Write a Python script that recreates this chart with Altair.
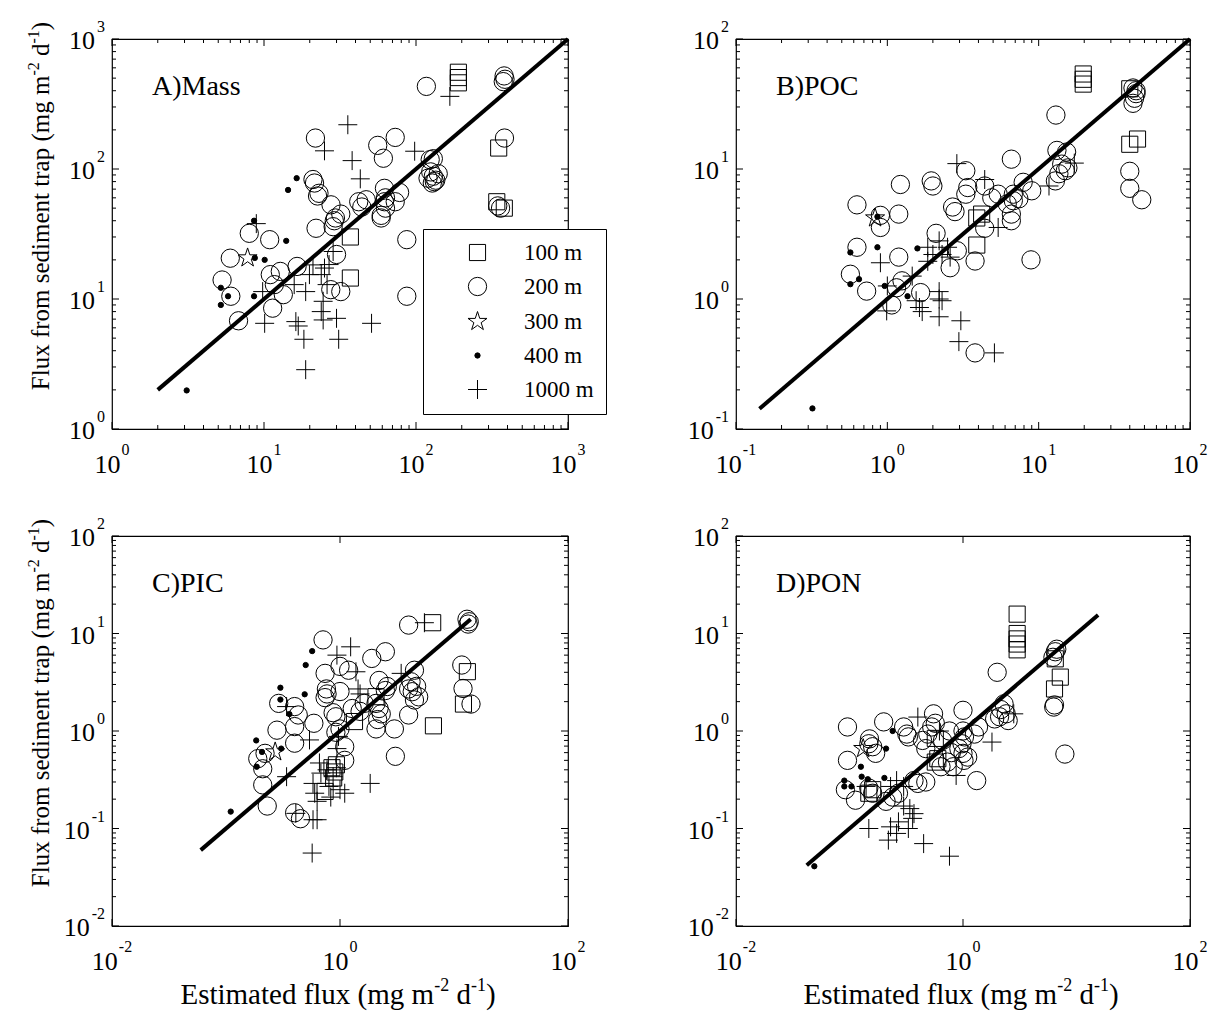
import altair as alt
import pandas as pd

FONT = "Liberation Serif"
DEPTHS = ["100 m", "200 m", "300 m", "400 m", "1000 m"]

# ---------------- Panel A: Mass ----------------
A_100_X = [190, 190, 190, 350, 340, 381, 37, 37]
A_100_Y = [555, 505, 460, 145, 56, 50, 30, 14.5]
A_200_X = [117, 380, 385, 375, 382, 360, 345, 21.8, 56, 73, 61, 124, 130, 125, 130, 135, 128, 140, 120, 132,
           21, 21.5, 22.5, 23, 22, 27.6, 29, 28.5, 29.5, 32, 30, 27.5, 32, 42, 47, 44, 62, 63, 62, 63, 59, 59,
           78, 73, 87, 87, 6.8, 5.3, 6.0, 6.05, 8, 10.9, 11, 11.7, 11.4, 13.4, 12.8, 16.5]
A_200_Y = [432, 520, 490, 470, 173, 50, 52, 173, 152, 175, 121, 118, 120, 95, 88, 82, 78, 92, 85, 80,
           83, 78, 62, 65, 35, 53, 40, 36, 42, 45, 22, 11.8, 11.4, 56, 58, 51, 71, 60, 56, 50, 44, 42,
           66, 56, 28.6, 10.5, 6.8, 14, 20.6, 10.5, 32, 28.6, 15.4, 12.9, 8.5, 10.8, 16.3, 17.8]
A_300_X = [7.8]
A_300_Y = [20.7]
A_400_X = [3.1, 5.2, 5.2, 5.8, 8.6, 8.7, 10.1, 8.6, 14, 14.4, 16.4]
A_400_Y = [1.98, 12.2, 9.0, 10.5, 40, 20.7, 20, 10.5, 28, 69, 85]
A_1000_X = [167, 35.6, 25, 38, 43, 98, 8.9, 9.8, 10.1, 15.8, 16.2, 16.8, 18.3, 18.8, 21, 19.9, 18.8, 23.8,
            25, 26, 24.5, 23.8, 24.5, 28.5, 26.8, 30, 31, 51]
A_1000_Y = [362, 219, 138, 116, 84, 137, 38, 11.4, 6.5, 12.9, 6.7, 6.2, 4.9, 2.86, 18.3, 15.4, 11.4, 15.4,
            17.3, 12.9, 9.6, 8.0, 6.9, 23.2, 18.4, 7.1, 4.9, 6.5]
A_LINE_X = [2, 1000]
A_LINE_Y = [2, 1000]

# ---------------- Panel B: POC ----------------
B_100_X = [19.7, 19.7, 19.7, 40, 45, 40, 3.9, 4.2, 3.9]
B_100_Y = [53.8, 49, 45, 41.4, 17, 15.5, 4.2, 4.5, 2.6]
B_200_X = [13, 42, 44, 43, 42, 44, 40, 40, 48, 6.6, 13.2, 15.3, 14.2, 15, 13.6, 12.9, 15.6, 7.9, 9, 6.8,
           6.2, 6.8, 6.6, 6.6, 7.4, 8.9, 4.4, 4.9, 5.4, 3.3, 3.4, 3.3, 2.7, 2.8, 4.4, 3.8, 2.1, 2.9, 2.6,
           1.95, 2.0, 1.22, 1.19, 1.19, 1.25, 1.15, 1.07, 1.66, 0.63, 0.9, 0.9, 0.63, 0.57, 0.73, 3.8]
B_200_Y = [26, 42, 38, 35, 32, 40, 9.6, 7.1, 5.8, 11.9, 13.9, 13.5, 10.9, 9.7, 9.2, 8.1, 10.2, 7.9, 6.8, 6.4,
           5.4, 5.7, 4.5, 4.0, 5.9, 2.0, 7.4, 6.0, 6.4, 9.7, 7.2, 6.4, 5.1, 4.7, 3.5, 1.96, 3.2, 2.35, 1.74,
           8.1, 7.4, 7.6, 4.5, 2.1, 1.38, 1.22, 0.9, 1.12, 5.3, 4.4, 3.55, 2.5, 1.55, 1.15, 0.385]
B_300_X = [0.83]
B_300_Y = [4.2]
B_400_X = [0.32, 0.57, 0.57, 0.65, 0.86, 0.86, 0.96, 1.36, 1.58]
B_400_Y = [0.144, 2.28, 1.3, 1.42, 4.3, 2.5, 1.26, 1.05, 2.45]
B_1000_X = [2.88, 4.4, 5.4, 17.2, 11.7, 1.85, 2.0, 2.2, 2.5, 2.6, 2.3, 0.9, 1.0, 0.99, 1.46, 1.55, 1.63,
            1.7, 2.2, 2.3, 2.2, 2.2, 3.06, 2.97, 5.1, 1.85]
B_1000_Y = [11, 8.3, 3.55, 11.1, 7.4, 2.5, 2.2, 2.8, 2.5, 2.1, 2.2, 1.9, 1.26, 0.81, 1.5, 0.97, 0.86,
            0.8, 1.14, 0.97, 1.0, 0.73, 0.68, 0.47, 0.385, 1.95]
B_LINE_X = [0.143, 100]
B_LINE_Y = [0.143, 100]

# ---------------- Panel C: PIC ----------------
C_100_X = [6.5, 13.1, 12.1, 6.6, 1.34, 2.07, 0.85, 0.9, 0.88, 0.93, 0.74]
C_100_Y = [12.9, 4.06, 1.89, 1.13, 1.25, 2.25, 0.42, 0.38, 0.33, 0.45, 0.24]
C_200_X = [13.6, 13, 13.3, 4.0, 11.7, 12, 14.1, 4.5, 4.2, 4.7, 4.3, 4.9, 4.5, 4.0, 4.0, 2.5, 1.9, 2.2, 2.6,
           2.5, 2.07, 2.2, 2.3, 2.14, 2.07, 3.0, 3.06, 1.63, 1.5, 1.28, 1.0, 1.0, 1.19, 0.71, 0.74, 0.76,
           0.77, 0.74, 0.87, 0.92, 1.0, 0.92, 1.1, 1.1, 0.59, 0.4, 0.43, 0.4, 0.4, 0.29, 0.28, 0.22, 0.19,
           0.21, 0.21, 0.23, 0.4, 0.45]
C_200_Y = [13.2, 14, 12.5, 12.2, 4.75, 2.73, 1.89, 4.2, 3.2, 2.87, 2.53, 2.24, 2.08, 2.7, 1.46, 6.5, 5.55,
           3.3, 2.86, 2.6, 1.92, 1.7, 1.5, 1.31, 1.05, 1.05, 0.55, 1.92, 1.59, 1.7, 2.54, 4.6, 4.2, 8.6,
           3.9, 2.7, 2.4, 2.2, 1.54, 1.4, 1.05, 0.97, 0.69, 0.5, 1.2, 1.78, 1.46, 0.75, 1.11, 1.92, 1.02,
           0.59, 0.52, 0.41, 0.28, 0.17, 0.145, 0.126]
C_300_X = [0.27]
C_300_Y = [0.61]
C_400_X = [0.11, 0.184, 0.186, 0.207, 0.305, 0.3, 0.3, 0.36, 0.49, 0.5, 0.57]
C_400_Y = [0.149, 0.80, 0.43, 0.61, 0.66, 2.78, 2.1, 1.49, 2.38, 4.75, 6.6]
C_1000_X = [1.24, 0.94, 5.5, 3.44, 1.38, 1.44, 0.34, 0.54, 0.34, 0.41, 0.58, 0.63, 0.57, 0.66, 0.58, 0.6,
            0.63, 0.68, 0.77, 0.8, 0.83, 0.87, 0.93, 1.0, 1.1, 1.84, 0.94, 0.97, 1.5]
C_1000_Y = [7.3, 6.0, 12.9, 3.9, 4.05, 2.7, 1.78, 0.81, 0.34, 0.143, 0.123, 0.123, 0.056, 0.47, 0.29, 0.23,
            0.19, 0.37, 0.40, 0.27, 0.21, 0.34, 0.42, 0.25, 0.23, 0.29, 0.66, 0.88, 2.4]
C_LINE_X = [0.06, 14]
C_LINE_Y = [0.06, 14]

# ---------------- Panel D: PON ----------------
D_100_X = [3.0, 3.0, 3.0, 3.0, 3.0, 6.5, 7.2, 6.4, 0.57, 0.6, 0.57, 0.148, 0.16]
D_100_Y = [15.8, 10, 8.8, 7.8, 6.8, 5.5, 3.57, 2.7, 0.84, 0.52, 0.48, 0.23, 0.25]
D_200_X = [6.5, 6.7, 6.2, 6.3, 6.4, 7.9, 2.0, 2.3, 2.4, 2.1, 2.5, 1.9, 2.15, 1.37, 1.26, 1.0, 1.0, 1.03,
           0.98, 1.0, 1.02, 0.92, 1.1, 1.32, 0.76, 0.66, 0.79, 0.73, 0.64, 0.82, 0.55, 0.53, 0.49, 0.57,
           0.44, 0.47, 0.3, 0.32, 0.33, 0.2, 0.148, 0.16, 0.17, 0.15, 0.096, 0.096, 0.092, 0.113, 0.148,
           0.16, 0.21, 0.24, 0.27, 0.37, 0.4, 0.47]
D_200_Y = [6.5, 6.9, 5.7, 1.76, 1.85, 0.58, 4.0, 1.9, 1.5, 1.4, 1.28, 1.33, 1.66, 1.1, 0.93, 1.63, 1.0, 0.87,
           0.74, 0.59, 0.5, 0.66, 0.54, 0.31, 1.0, 0.8, 0.6, 0.48, 0.43, 0.43, 1.5, 1.1, 0.93, 1.2,
           0.8, 0.66, 1.1, 0.93, 0.87, 1.24, 0.74, 0.69, 0.59, 0.83, 1.1, 0.5, 0.25, 0.195, 0.26,
           0.23, 0.19, 0.21, 0.23, 0.31, 0.29, 0.3]
D_300_X = [0.132]
D_300_Y = [0.66]
D_400_X = [0.049, 0.09, 0.09, 0.104, 0.126, 0.128, 0.145, 0.203, 0.21, 0.24]
D_400_Y = [0.041, 0.31, 0.27, 0.27, 0.43, 0.34, 0.32, 0.33, 0.66, 1.0]
D_1000_X = [2.8, 1.8, 0.87, 0.76, 0.45, 0.148, 0.23, 0.26, 0.22, 0.27, 0.33, 0.36, 0.34, 0.37, 0.3, 0.4,
            0.62, 0.26, 0.23, 0.14, 0.3]
D_1000_Y = [1.5, 0.77, 0.35, 0.052, 0.07, 0.1, 0.104, 0.089, 0.076, 0.117, 0.1, 0.127, 0.16, 0.142, 0.17,
            1.39, 1.0, 0.31, 0.27, 0.27, 0.27]
D_LINE_X = [0.042, 15.5]
D_LINE_Y = [0.042, 15.5]

# ---------------- Axis ticks and labels ----------------
A_MAJOR = [1, 10, 100, 1000]
A_EXP = ["0", "1", "2", "3"]
A_MINOR = [m * d for d in (1, 10, 100) for m in range(2, 10)]
B_MAJOR = [0.1, 1, 10, 100]
B_EXP = ["-1", "0", "1", "2"]
B_MINOR = [m * d for d in (0.1, 1, 10) for m in range(2, 10)]
CD_X_MAJOR = [0.01, 1, 100]
CD_X_EXP = ["-2", "0", "2"]
CD_Y_MAJOR = [0.01, 0.1, 1, 10, 100]
CD_Y_EXP = ["-2", "-1", "0", "1", "2"]
CD_Y_MINOR = [m * d for d in (0.01, 0.1, 1, 10) for m in range(2, 10)]

Y_TITLE = [("Flux from sediment trap (mg m", False), ("-2", True), (" d", False), ("-1", True), (")", False)]
X_TITLE = [("Estimated flux (mg m", False), ("-2", True), (" d", False), ("-1", True), (")", False)]

# ---------------- Styling ----------------
STAR = "M0,-1L0.2245,-0.309L0.951,-0.309L0.363,0.118L0.588,0.809L0,0.382L-0.588,0.809L-0.363,0.118L-0.951,-0.309L-0.2245,-0.309Z"
CROSS = "M-1,0L1,0M0,-1L0,1"
SHAPES = ["square", "circle", STAR, "circle", CROSS]
SIZES = [260, 335, 400, 28, 360]
FILLS = ["transparent", "transparent", "transparent", "black", "transparent"]
STROKES = ["black"] * 5

W_L, W_R, H = 456, 454, 390
TICK_FS, EXP_FS = 26, 16
YT_FS, XT_FS, YSUP_FS, XSUP_FS = 25, 29, 16, 18

TIMES = {' ': 250, '(': 333, ')': 333, '-': 333, 'A': 722, 'B': 667, 'C': 667, 'D': 722, 'E': 611,
         'F': 556, 'M': 889, 'N': 722, 'O': 722, 'P': 556, 'I': 333, 'a': 444, 'd': 500, 'e': 444,
         'f': 333, 'g': 500, 'i': 278, 'l': 278, 'm': 778, 'n': 500, 'o': 500, 'p': 500, 'r': 333,
         's': 389, 't': 278, 'u': 500, 'x': 500}


def tw(s, size):
    return sum(TIMES.get(c, 500) for c in s) * size / 1000.0


def points_df(groups):
    rows = []
    for depth, xs, ys in groups:
        for x, y in zip(xs, ys):
            rows.append({"depth": depth, "x": x, "y": y})
    return pd.DataFrame(rows)


def build_panel(label, groups, line_x, line_y, xdom, ydom, xmaj, xexp, xminor, ymaj, yexp, yminor,
                width, legend, ytitle, xtitle):
    xs = alt.Scale(type="log", domain=xdom, nice=False)
    ys = alt.Scale(type="log", domain=ydom, nice=False)

    def X(f):
        return alt.X(f, type="quantitative", scale=xs, axis=None)

    def Y(f):
        return alt.Y(f, type="quantitative", scale=ys, axis=None)

    layers = []
    # tick marks (inward, on all four sides)
    for vals, ln in ((xmaj, 7), (xminor, 4)):
        if not vals:
            continue
        base = alt.Chart(pd.DataFrame({"v": vals})).mark_rule(color="black", strokeWidth=1)
        layers.append(base.encode(x=X("v"), y=alt.value(H), y2=alt.value(H - ln)))
        layers.append(base.encode(x=X("v"), y=alt.value(0), y2=alt.value(ln)))
    for vals, ln in ((ymaj, 7), (yminor, 4)):
        if not vals:
            continue
        base = alt.Chart(pd.DataFrame({"v": vals})).mark_rule(color="black", strokeWidth=1)
        layers.append(base.encode(y=Y("v"), x=alt.value(0), x2=alt.value(ln)))
        layers.append(base.encode(y=Y("v"), x=alt.value(width), x2=alt.value(width - ln)))

    # points
    df = points_df(groups)
    pts = alt.Chart(df).mark_point(filled=False, strokeWidth=1, opacity=1).encode(
        x=X("x"), y=Y("y"),
        shape=alt.Shape("depth:N", scale=alt.Scale(type="ordinal", domain=DEPTHS, range=SHAPES), legend=legend),
        size=alt.Size("depth:N", scale=alt.Scale(type="ordinal", domain=DEPTHS, range=SIZES), legend=legend),
        fill=alt.Fill("depth:N", scale=alt.Scale(type="ordinal", domain=DEPTHS, range=FILLS), legend=legend),
        stroke=alt.Stroke("depth:N", scale=alt.Scale(type="ordinal", domain=DEPTHS, range=STROKES), legend=legend),
    )
    layers.append(pts)

    # 1:1 line
    layers.append(alt.Chart(pd.DataFrame({"x": line_x, "y": line_y})).mark_line(
        color="black", strokeWidth=4).encode(x=X("x"), y=Y("y")))

    # panel label
    layers.append(alt.Chart(pd.DataFrame({"t": [label]})).mark_text(
        font=FONT, fontSize=28, align="left", baseline="alphabetic", color="black").encode(
        x=alt.value(40), y=alt.value(56), text="t:N"))

    w10 = tw("10", TICK_FS)
    # x tick labels grouped by exponent width
    for neg in (False, True):
        items = [(v, e) for v, e in zip(xmaj, xexp) if e.startswith("-") == neg]
        if not items:
            continue
        ew = tw(items[0][1], EXP_FS)
        total = w10 + 1 + ew
        ldf = pd.DataFrame({"v": [i[0] for i in items], "b": ["10"] * len(items), "e": [i[1] for i in items]})
        layers.append(alt.Chart(ldf).mark_text(font=FONT, fontSize=TICK_FS, align="left", baseline="alphabetic",
                                               dx=-total / 2, color="black").encode(
            x=X("v"), y=alt.value(H + 44), text="b:N"))
        layers.append(alt.Chart(ldf).mark_text(font=FONT, fontSize=EXP_FS, align="left", baseline="alphabetic",
                                               dx=-total / 2 + w10 + 1, color="black").encode(
            x=X("v"), y=alt.value(H + 26), text="e:N"))
    # y tick labels
    for neg in (False, True):
        items = [(v, e) for v, e in zip(ymaj, yexp) if e.startswith("-") == neg]
        if not items:
            continue
        ew = tw(items[0][1], EXP_FS)
        ldf = pd.DataFrame({"v": [i[0] for i in items], "b": ["10"] * len(items), "e": [i[1] for i in items]})
        layers.append(alt.Chart(ldf).mark_text(font=FONT, fontSize=TICK_FS, align="right", baseline="alphabetic",
                                               dx=-7 - ew - 2, dy=10, color="black").encode(
            y=Y("v"), x=alt.value(0), text="b:N"))
        layers.append(alt.Chart(ldf).mark_text(font=FONT, fontSize=EXP_FS, align="right", baseline="alphabetic",
                                               dx=-7, dy=-7, color="black").encode(
            y=Y("v"), x=alt.value(0), text="e:N"))

    # y title pieces (rotated, read bottom to top)
    if ytitle:
        sizes = [YSUP_FS if sup else YT_FS for _, sup in Y_TITLE]
        total = sum(tw(t, s) for (t, _), s in zip(Y_TITLE, sizes))
        pos = H / 2 - 28 + total / 2
        for (t, sup), s in zip(Y_TITLE, sizes):
            lead = tw(t[: len(t) - len(t.lstrip())], s)
            layers.append(alt.Chart(pd.DataFrame({"t": [t.strip()]})).mark_text(
                font=FONT, fontSize=s, angle=270, align="left", baseline="alphabetic", color="black").encode(
                x=alt.value(-63 - (10 if sup else 0)), y=alt.value(pos - lead), text="t:N"))
            pos -= tw(t, s)
    # x title pieces
    if xtitle:
        sizes = [XSUP_FS if sup else XT_FS for _, sup in X_TITLE]
        total = sum(tw(t, s) for (t, _), s in zip(X_TITLE, sizes))
        pos = width / 2 - 2 - total / 2
        for (t, sup), s in zip(X_TITLE, sizes):
            lead = tw(t[: len(t) - len(t.lstrip())], s)
            layers.append(alt.Chart(pd.DataFrame({"t": [t.strip()]})).mark_text(
                font=FONT, fontSize=s, align="left", baseline="alphabetic", color="black").encode(
                x=alt.value(pos + lead), y=alt.value(H + 78 - (13 if sup else 0)), text="t:N"))
            pos += tw(t, s)

    return alt.layer(*layers).properties(width=width, height=H)


legend_A = alt.Legend(orient="none", legendX=311, legendY=190, title=None, padding=12, symbolOffset=31,
                      labelOffset=35, rowPadding=10, strokeColor="black", fillColor="white", labelFont=FONT,
                      labelFontSize=23, labelColor="black", symbolStrokeWidth=1, cornerRadius=0,
                      labelExpr="datum.label + '\u00a0'")

pA = build_panel("A)Mass",
                 [("100 m", A_100_X, A_100_Y), ("200 m", A_200_X, A_200_Y), ("300 m", A_300_X, A_300_Y),
                  ("400 m", A_400_X, A_400_Y), ("1000 m", A_1000_X, A_1000_Y)],
                 A_LINE_X, A_LINE_Y, [1, 1000], [1, 1000], A_MAJOR, A_EXP, A_MINOR, A_MAJOR, A_EXP, A_MINOR,
                 W_L, legend_A, True, False)
pB = build_panel("B)POC",
                 [("100 m", B_100_X, B_100_Y), ("200 m", B_200_X, B_200_Y), ("300 m", B_300_X, B_300_Y),
                  ("400 m", B_400_X, B_400_Y), ("1000 m", B_1000_X, B_1000_Y)],
                 B_LINE_X, B_LINE_Y, [0.1, 100], [0.1, 100], B_MAJOR, B_EXP, B_MINOR, B_MAJOR, B_EXP, B_MINOR,
                 W_R, None, False, False)
pC = build_panel("C)PIC",
                 [("100 m", C_100_X, C_100_Y), ("200 m", C_200_X, C_200_Y), ("300 m", C_300_X, C_300_Y),
                  ("400 m", C_400_X, C_400_Y), ("1000 m", C_1000_X, C_1000_Y)],
                 C_LINE_X, C_LINE_Y, [0.01, 100], [0.01, 100], CD_X_MAJOR, CD_X_EXP, [], CD_Y_MAJOR, CD_Y_EXP,
                 CD_Y_MINOR, W_L, None, True, True)
pD = build_panel("D)PON",
                 [("100 m", D_100_X, D_100_Y), ("200 m", D_200_X, D_200_Y), ("300 m", D_300_X, D_300_Y),
                  ("400 m", D_400_X, D_400_Y), ("1000 m", D_1000_X, D_1000_Y)],
                 D_LINE_X, D_LINE_Y, [0.01, 100], [0.01, 100], CD_X_MAJOR, CD_X_EXP, [], CD_Y_MAJOR, CD_Y_EXP,
                 CD_Y_MINOR, W_R, None, False, True)

chart = alt.concat(pA, pB, pC, pD, columns=2, spacing={"row": 107, "column": 168}, bounds="flush").resolve_scale(
    shape="independent", size="independent", fill="independent", stroke="independent"
).resolve_legend(
    shape="independent", size="independent", fill="independent", stroke="independent"
).properties(
    padding={"left": 25, "top": 18, "right": 0, "bottom": 0}, background="white"
).configure_view(stroke="black", strokeWidth=1.2)

chart.save("out.html", embed_options={"renderer": "svg", "actions": False})
